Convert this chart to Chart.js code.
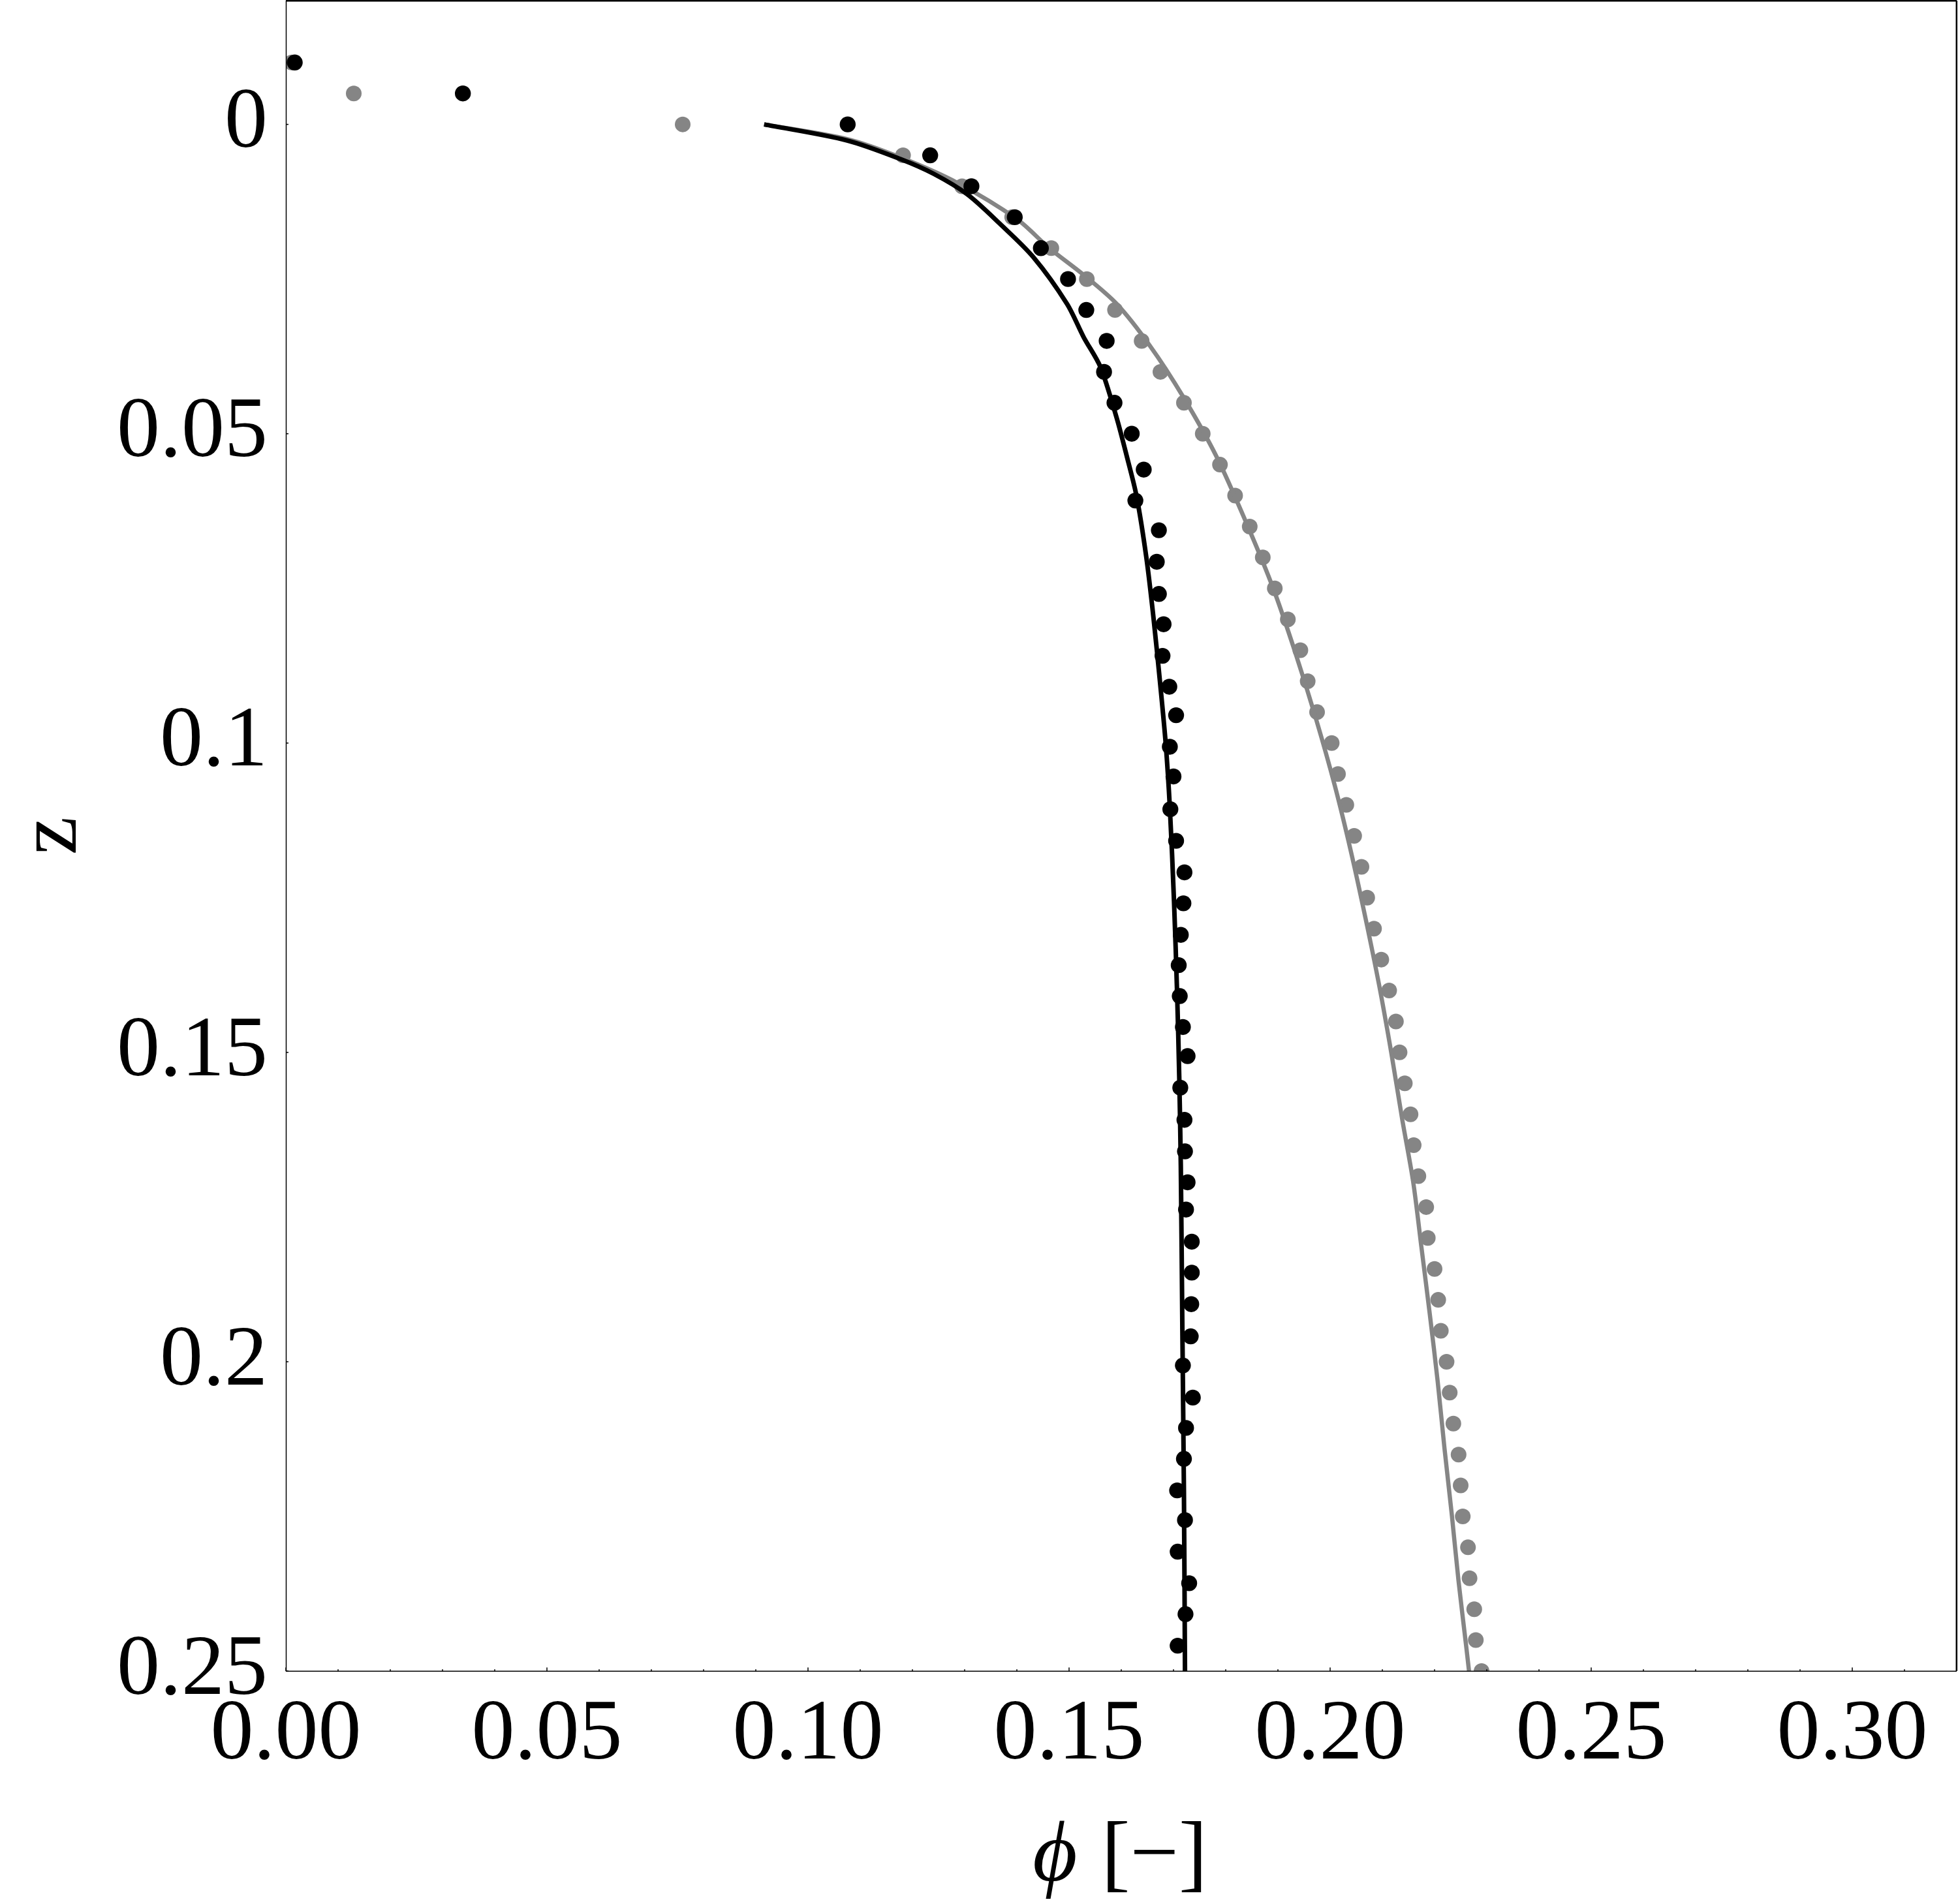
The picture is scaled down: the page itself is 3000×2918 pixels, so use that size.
<!DOCTYPE html>
<html><head><meta charset="utf-8">
<style>html,body{margin:0;padding:0;background:#fff;}canvas{display:block;}</style>
<script src="https://cdn.jsdelivr.net/npm/chart.js@4.4.1/dist/chart.umd.min.js"></script>
</head><body>
<canvas id="c" width="3000" height="2918"></canvas>
<script>
// ---- data (phi = x value, z = depth) ----
const blackDotsZ = [-0.01,-0.005,0,0.005,0.01,0.015,0.02,0.025,0.03,0.035,0.04,0.045,0.05,
  0.0558,0.0608,0.0656,0.0707,0.0759,0.0808,0.0859,0.0909,0.0955,0.1006,
  0.1054,0.1107,0.1158,0.1209,0.1259,0.1310,0.1359,0.1409,0.1459,0.1506,
  0.1557,0.1609,0.1660,0.1710,0.1754,0.1806,0.1856,0.1907,0.1959,0.2006,
  0.2058,0.2107,0.2157,0.2208,0.2256,0.2307,0.2358,0.2408,0.2459];
const blackDotsPhi = [0.0017,0.0339,0.1076,0.1234,0.1313,0.1396,0.1446,0.1498,0.1533,0.1572,0.1567,0.1587,0.1620,
  0.1643,0.1627,0.1672,0.1668,0.1672,0.1681,0.1679,0.1692,0.1705,0.1693,
  0.1700,0.1694,0.1705,0.1721,0.1719,0.1714,0.1710,0.1712,0.1718,0.1727,
  0.1713,0.1721,0.1722,0.1727,0.1724,0.1735,0.1735,0.1734,0.1733,0.1718,
  0.1737,0.1724,0.1720,0.1707,0.1722,0.1708,0.1730,0.1723,0.1708];

const grayDotsZ = [-0.01,-0.005,0,0.005,0.01,0.015,0.02,0.025,0.03,0.035,0.04,0.045,0.05,
  0.055,0.06,0.065,0.07,0.075,0.08,0.085,0.09,0.095,0.10,
  0.105,0.11,0.115,0.12,0.125,0.13,0.135,0.14,0.145,0.15,
  0.155,0.16,0.165,0.17,0.175,0.18,0.185,0.19,0.195,0.20,
  0.205,0.21,0.215,0.22,0.225,0.23,0.235,0.24,0.245,0.25];
const grayDotsPhi = [0.0011,0.0130,0.0760,0.1182,0.1295,0.1391,0.1466,0.1534,0.1588,0.1639,0.1675,0.1720,0.1756,
  0.1789,0.1818,0.1846,0.1871,0.1894,0.1919,0.1943,0.1957,0.1975,0.2003,
  0.2015,0.2031,0.2046,0.2060,0.2071,0.2084,0.2098,0.2113,0.2126,0.2133,
  0.2143,0.2154,0.2160,0.2169,0.2184,0.2187,0.2200,0.2207,0.2212,0.2223,
  0.2229,0.2236,0.2246,0.2250,0.2254,0.2264,0.2267,0.2276,0.2279,0.2290];

const blackCurveZ = [0,0.0026,0.0056,0.0080,0.0113,0.0161,0.0215,0.0290,0.0344,0.0392,0.0474,0.0538,0.0600,
  0.0700,0.0800,0.0900,0.1000,0.1104,0.1256,0.1407,0.1539,0.1684,0.1948,0.2211,0.25];
const blackCurvePhi = [0.0916,0.1075,0.1177,0.1241,0.1305,0.1368,0.1432,0.1496,0.1528,0.1560,0.1591,0.1611,0.1629,
  0.1648,0.1662,0.1674,0.1685,0.1693,0.1701,0.1707,0.1711,0.1714,0.1717,0.1720,0.1722];

const grayCurveZ = [0,0.0024,0.0054,0.0094,0.0153,0.0200,0.0242,0.0290,0.0358,0.0441,0.0538,0.0651,0.0750,
  0.0853,0.0961,0.1069,0.1176,0.1284,0.1392,0.1500,0.1608,0.1709,0.1816,0.1924,0.2032,0.2140,
  0.2247,0.2355,0.2463,0.25];
const grayCurvePhi = [0.0916,0.1076,0.1179,0.1285,0.1400,0.1462,0.1526,0.1591,0.1655,0.1719,0.1783,0.1843,0.1891,
  0.1933,0.1973,0.2009,0.2040,0.2068,0.2094,0.2117,0.2138,0.2159,0.2175,0.2191,0.2206,0.2219,
  0.2233,0.2246,0.2261,0.2266];

const xTickValues = [0, 0.05, 0.10, 0.15, 0.20, 0.25, 0.30];
const xTickLabels = ['0.00','0.05','0.10','0.15','0.20','0.25','0.30'];
const yTickValues = [0, 0.05, 0.1, 0.15, 0.2, 0.25];
const yTickLabels = ['0','0.05','0.1','0.15','0.2','0.25'];
const xMinorStep = 0.01;
const xTitleItalic = 'ϕ';
const xTitleRest = ' [−]';
const yTitle = 'z';

const FONT = "'Liberation Serif', 'Times New Roman', 'DejaVu Serif', serif";
const GRAY = '#858585';
const toPts = (xs, zs) => xs.map((v, i) => ({x: v, y: zs[i]}));

const framePlugin = {
  id: 'frame',
  afterDraw(chart) {
    const {ctx, chartArea: a} = chart;
    const xs = chart.scales.x, ys = chart.scales.y;
    ctx.save();
    ctx.strokeStyle = '#000';
    ctx.lineWidth = 1.5;
    const nMinor = Math.round((xs.max - xs.min) / xMinorStep);
    for (let i = 0; i <= nMinor; i++) {
      const px = xs.getPixelForValue(xs.min + i * xMinorStep);
      const len = (i % 5 === 0) ? 5.5 : 2.8;
      ctx.beginPath(); ctx.moveTo(px, a.bottom); ctx.lineTo(px, a.bottom - len); ctx.stroke();
    }
    yTickValues.forEach(v => {
      const py = ys.getPixelForValue(v);
      ctx.beginPath(); ctx.moveTo(a.left, py); ctx.lineTo(a.left + 4, py); ctx.stroke();
    });
    // frame
    ctx.lineWidth = 1.5;
    ctx.beginPath(); ctx.moveTo(a.left + 0.5, a.top); ctx.lineTo(a.left + 0.5, a.bottom + 0.5); ctx.stroke();
    ctx.beginPath(); ctx.moveTo(a.left, a.bottom + 0.2); ctx.lineTo(a.right, a.bottom + 0.2); ctx.stroke();
    ctx.lineWidth = 2.5;
    ctx.beginPath(); ctx.moveTo(a.left, a.top + 0.2); ctx.lineTo(a.right, a.top + 0.2); ctx.stroke();
    ctx.beginPath(); ctx.moveTo(a.right - 0.2, a.top); ctx.lineTo(a.right - 0.2, a.bottom); ctx.stroke();
    // x title with italic phi
    ctx.fillStyle = '#000';
    ctx.textBaseline = 'alphabetic';
    ctx.textAlign = 'left';
    const fI = 'italic 132px ' + FONT, fR = '132px ' + FONT;
    ctx.font = fI; const w1 = ctx.measureText(xTitleItalic).width;
    ctx.font = fR; const w2 = ctx.measureText(xTitleRest).width;
    const cx = (a.left + a.right) / 2 - 4;
    const sx = cx - (w1 + w2) / 2;
    const by = a.bottom + 321;
    ctx.font = fI; ctx.fillText(xTitleItalic, sx, by);
    ctx.font = fR; ctx.fillText(xTitleRest, sx + w1 + 4, by);
    ctx.restore();
  }
};

new Chart(document.getElementById('c'), {
  type: 'scatter',
  data: {
    datasets: [
      {label: 'black data', data: toPts(blackDotsPhi, blackDotsZ), order: 0, clip: 0,
       pointRadius: 12.2, pointBorderWidth: 0, pointBackgroundColor: '#000', pointHoverRadius: 12.2, showLine: false},
      {label: 'black model', data: toPts(blackCurvePhi, blackCurveZ), order: 1, clip: 0, showLine: true,
       borderColor: '#000', borderWidth: 7, pointRadius: 0, pointHoverRadius: 0, tension: 0.3, borderCapStyle: 'butt', borderJoinStyle: 'round', fill: false},
      {label: 'gray model', data: toPts(grayCurvePhi, grayCurveZ), order: 2, clip: 0, showLine: true,
       borderColor: GRAY, borderWidth: 6.5, pointRadius: 0, pointHoverRadius: 0, tension: 0.3, borderCapStyle: 'butt', borderJoinStyle: 'round', fill: false},
      {label: 'gray data', data: toPts(grayDotsPhi, grayDotsZ), order: 3, clip: 0,
       pointRadius: 12, pointBorderWidth: 0, pointBackgroundColor: GRAY, pointHoverRadius: 12, showLine: false}
    ]
  },
  options: {
    responsive: false, animation: false, devicePixelRatio: 1,
    layout: {autoPadding: false, padding: {left: 0, right: 2, top: 1, bottom: 0}},
    plugins: {legend: {display: false}, tooltip: {enabled: false}},
    events: [],
    scales: {
      x: {
        type: 'linear', min: 0, max: 0.32,
        afterBuildTicks: s => { s.ticks = xTickValues.map(v => ({value: v})); },
        afterFit: s => { s.height = 357; s.paddingLeft = 0; s.paddingRight = 0; },
        ticks: {autoSkip: false, maxRotation: 0, minRotation: 0, padding: 20, color: '#000',
          font: {family: FONT, size: 132}, callback: (v, i) => xTickLabels[i]},
        grid: {display: false, drawTicks: false}, border: {display: false}
      },
      y: {
        type: 'linear', reverse: true, min: -0.02, max: 0.25,
        afterBuildTicks: s => { s.ticks = yTickValues.map(v => ({value: v})); },
        afterFit: s => { s.width = 438; s.paddingTop = 0; s.paddingBottom = 0; },
        ticks: {autoSkip: false, padding: 28, color: '#000',
          font: {family: FONT, size: 132}, callback: (v, i) => yTickLabels[i]},
        grid: {display: false, drawTicks: false}, border: {display: false},
        title: {display: true, text: yTitle, color: '#000', padding: 0,
          font: {family: FONT, size: 132, lineHeight: 1.235}}
      }
    }
  },
  plugins: [framePlugin]
});
</script>
</body></html>
